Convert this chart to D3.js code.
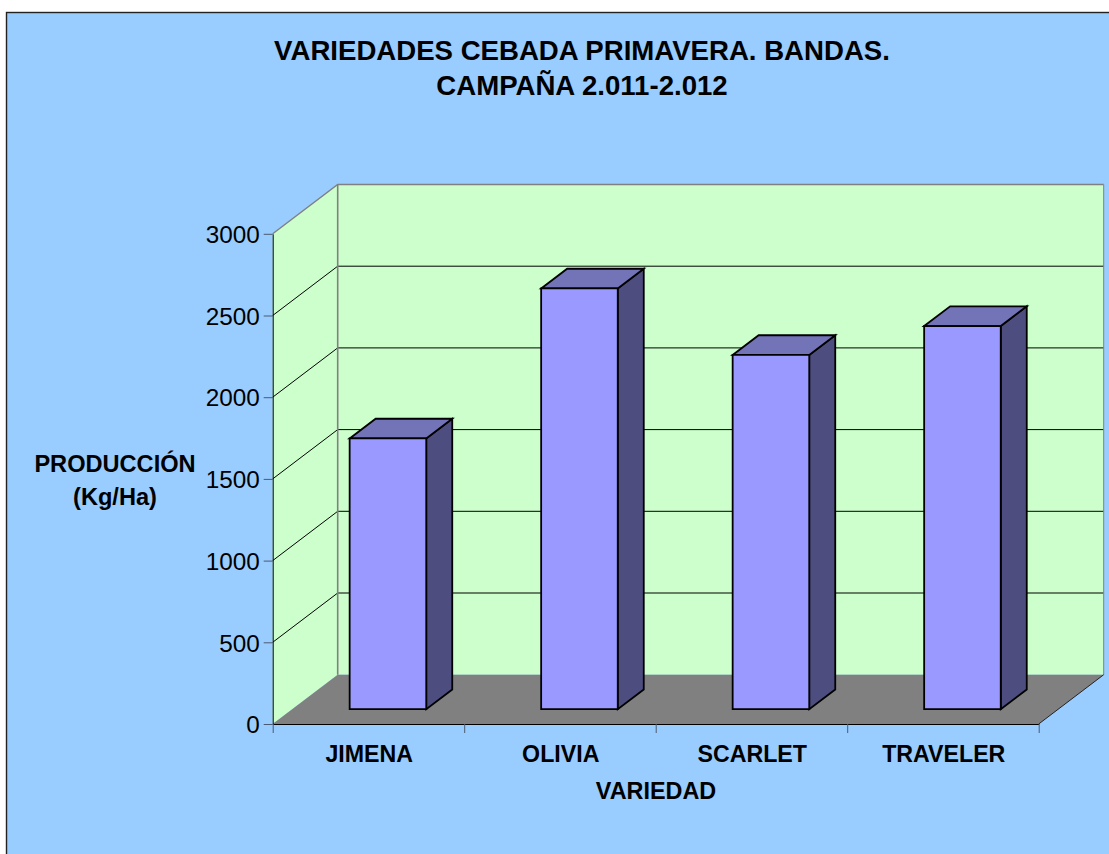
<!DOCTYPE html>
<html><head><meta charset="utf-8">
<script src="https://cdnjs.cloudflare.com/ajax/libs/d3/7.8.5/d3.min.js"></script>
<style>html,body{margin:0;padding:0;background:#fff}svg{display:block}text{font-family:"Liberation Sans",Arial,sans-serif;fill:#000}</style>
</head><body><svg id="c" width="1109" height="854"></svg>
<script>
const categories = ["JIMENA","OLIVIA","SCARLET","TRAVELER"];
const values = [1657,2575,2168,2345];
const yTicks = [0,500,1000,1500,2000,2500,3000];
const titleLines = ["VARIEDADES CEBADA PRIMAVERA. BANDAS.","CAMPAÑA 2.011-2.012"];
const yTitleLines = ["PRODUCCIÓN","(Kg/Ha)"];
const xTitle = "VARIEDAD";

const svg = d3.select("#c");
const x = d3.scaleBand().domain(categories).range([272.7,1038.7]).paddingInner(0).paddingOuter(0);
const y = d3.scaleLinear().domain([0,3000]).range([724,233.8]);
const depthX = d3.scaleLinear().domain([0,1]).range([0,65]);
const depthY = d3.scaleLinear().domain([0,1]).range([0,-49.3]);
const X = (px,d)=>px+depthX(d), Y=(v,d)=>y(v)+depthY(d);
const poly = (pts)=>pts.map(p=>p.join(",")).join(" ");
const [L,R] = x.range();

svg.append("rect").attr("x",6.5).attr("y",12.5).attr("width",1110).attr("height",850)
  .attr("fill","#99ccff").attr("stroke","#222").attr("stroke-width",1.4);

// walls and floor
svg.append("polygon").attr("points",poly([[X(L,0),Y(3000,0)],[X(L,1),Y(3000,1)],[X(L,1),Y(0,1)],[X(L,0),Y(0,0)]])).attr("fill","#ccffcc");
svg.append("polygon").attr("points",poly([[X(L,1),Y(3000,1)],[X(R,1),Y(3000,1)],[X(R,1),Y(0,1)],[X(L,1),Y(0,1)]])).attr("fill","#ccffcc");
svg.append("polygon").attr("points",poly([[X(L,0),Y(0,0)],[X(L,1),Y(0,1)],[X(R,1),Y(0,1)],[X(R,0),Y(0,0)]])).attr("fill","#808080");

// gridlines
const grid = yTicks.filter(v=>v>0 && v<3000);
svg.selectAll(".g").data(grid).join("polyline").attr("fill","none").attr("stroke","#000").attr("stroke-width",1)
  .attr("points",v=>poly([[X(L,0),Y(v,0)],[X(L,1),Y(v,1)],[X(R,1),Y(v,1)]]));

// wall edges
svg.append("polyline").attr("fill","none").attr("stroke","#808080").attr("stroke-width",1.4)
  .attr("points",poly([[X(L,0),Y(3000,0)],[X(L,1),Y(3000,1)],[X(R,1),Y(3000,1)]]));
svg.append("line").attr("x1",X(L,1)).attr("x2",X(L,1)).attr("y1",Y(3000,1)).attr("y2",Y(0,1)).attr("stroke","#808080").attr("stroke-width",1.6);
svg.append("line").attr("x1",X(R,1)).attr("x2",X(R,1)).attr("y1",Y(3000,1)).attr("y2",Y(0,1)).attr("stroke","#808080").attr("stroke-width",1);
svg.append("line").attr("x1",X(R,0)).attr("x2",X(R,1)).attr("y1",Y(0,0)).attr("y2",Y(0,1)).attr("stroke","#222").attr("stroke-width",1);

// bars
const d0=0.3, d1=0.7, bw=x.bandwidth()*0.4;
const bars = svg.selectAll(".b").data(categories.map((c,i)=>({c,v:values[i]}))).join("g");
const xl = d=>x(d.c)+x.bandwidth()*0.3, xr = d=>xl(d)+bw;
const barStroke = s=>s.attr("stroke","#000").attr("stroke-width",1.8).attr("stroke-linejoin","miter");
bars.append("polygon").attr("fill","#4d4d80").call(barStroke)
  .attr("points",d=>poly([[X(xr(d),d0),Y(d.v,d0)],[X(xr(d),d1),Y(d.v,d1)],[X(xr(d),d1),Y(0,d1)],[X(xr(d),d0),Y(0,d0)]]));
bars.append("polygon").attr("fill","#7373b8").call(barStroke)
  .attr("points",d=>poly([[X(xl(d),d0),Y(d.v,d0)],[X(xl(d),d1),Y(d.v,d1)],[X(xr(d),d1),Y(d.v,d1)],[X(xr(d),d0),Y(d.v,d0)]]));
bars.append("polygon").attr("fill","#9999ff").call(barStroke)
  .attr("points",d=>poly([[X(xl(d),d0),Y(d.v,d0)],[X(xr(d),d0),Y(d.v,d0)],[X(xr(d),d0),Y(0,d0)],[X(xl(d),d0),Y(0,d0)]]));

// axes
const yAxis = svg.append("g").attr("transform",`translate(${L},0)`)
  .call(d3.axisLeft(y).tickValues(yTicks).tickFormat(d3.format("d")).tickSize(9).tickPadding(4).tickSizeOuter(0));
yAxis.select(".domain").attr("stroke","#000").attr("stroke-width",1);
yAxis.selectAll(".tick line").attr("stroke","#4a5a70").attr("stroke-width",1);
yAxis.selectAll("text").style("font-size","24.3px").style("font-family","'Liberation Sans'").attr("dy","0.36em");

const xEdges = d3.scaleLinear().domain([0,categories.length]).range([L,R]);
const xAxisLine = svg.append("g").attr("transform",`translate(0,${y(0)})`)
  .call(d3.axisBottom(xEdges).tickValues(d3.range(categories.length+1)).tickSize(9).tickSizeOuter(0).tickFormat(""));
xAxisLine.select(".domain").attr("stroke","#000").attr("stroke-width",1.2);
xAxisLine.selectAll(".tick line").attr("stroke","#4a5a70").attr("stroke-width",1);

svg.selectAll(".cat").data(categories).join("text")
  .attr("x",c=>x(c)+x.bandwidth()/2+0.8).attr("y",762).attr("text-anchor","middle")
  .style("font-size","23.2px").style("font-weight",700).text(c=>c);

// titles
svg.selectAll(".t").data(titleLines).join("text").attr("x",582).attr("y",(d,i)=>60+i*35)
  .attr("text-anchor","middle").style("font-size","27.6px").style("font-weight",700).text(d=>d);
svg.selectAll(".yt").data(yTitleLines).join("text").attr("x",115).attr("y",(d,i)=>472+i*33)
  .attr("text-anchor","middle").style("font-size","23.6px").style("font-weight",700).text(d=>d);
svg.append("text").attr("x",656).attr("y",799).attr("text-anchor","middle").style("font-size","23.4px").style("font-weight",700).text(xTitle);
</script></body></html>
